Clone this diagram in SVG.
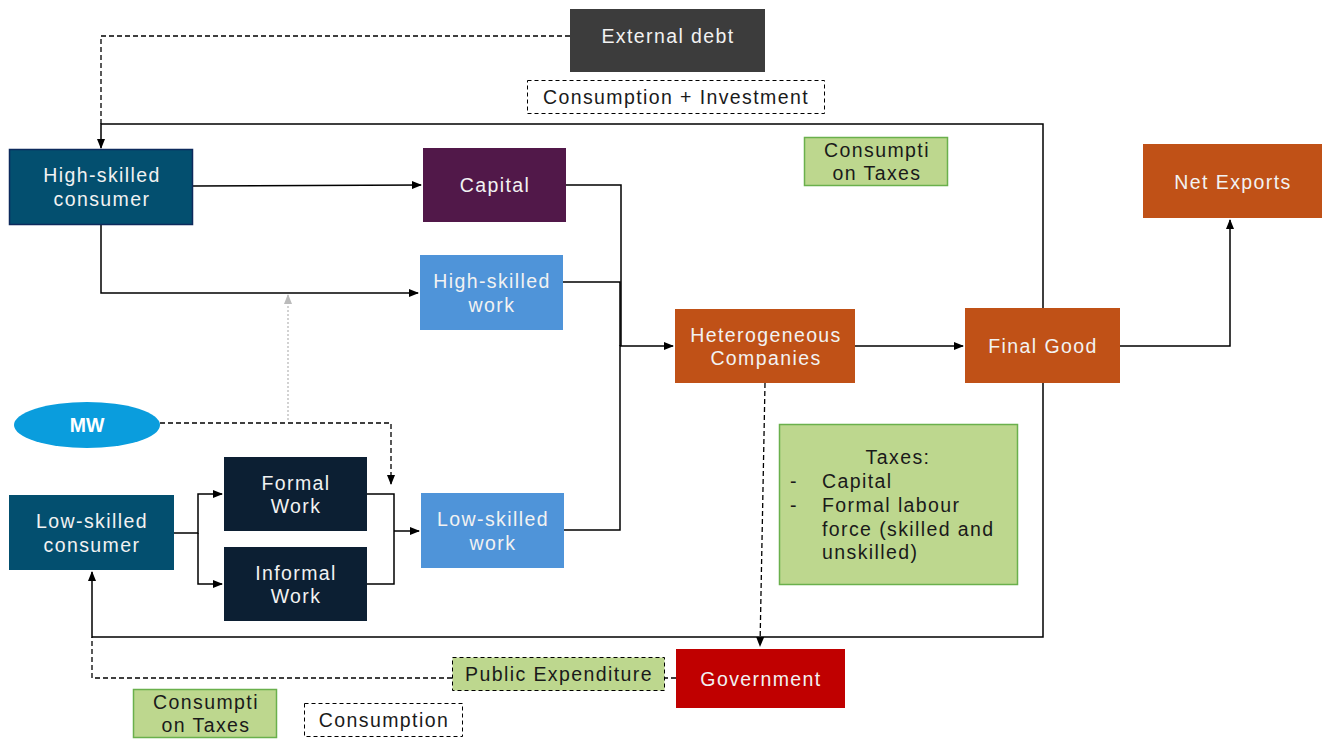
<svg xmlns="http://www.w3.org/2000/svg" width="1323" height="740" viewBox="0 0 1323 740">
<defs>
<marker id="ah" markerWidth="10" markerHeight="8" refX="9" refY="4" orient="auto" markerUnits="userSpaceOnUse"><path d="M0,0 L10,4 L0,8 z" fill="#000"/></marker>
<marker id="ahg" markerWidth="10" markerHeight="8" refX="9" refY="4" orient="auto" markerUnits="userSpaceOnUse"><path d="M0,0 L10,4 L0,8 z" fill="#bbb"/></marker>
<style>
text{font-family:"Liberation Sans",Arial,sans-serif;font-size:19.5px;letter-spacing:1.4px;text-anchor:middle}
.w{fill:#f2f2f2}
.d{fill:#1a1a1a}
.c{fill:none;stroke:#000;stroke-width:1.5}
.dash{fill:none;stroke:#000;stroke-width:1.3;stroke-dasharray:5,3}
.green{fill:#bdd78e;stroke:#6ab04c;stroke-width:1.5}
.lbl{fill:#fff;stroke:#000;stroke-width:1;stroke-dasharray:4,3}
</style>
</defs>
<rect width="1323" height="740" fill="#fff"/>

<g id="connectors">
<path class="c" d="M1043,308 V124 H101 V148" marker-end="url(#ah)"/>
<path class="c" d="M1043,383 V637 H92 V572" marker-end="url(#ah)"/>
<path class="dash" d="M570,36 H101 V124"/>
<path class="c" d="M193,186 L421,185" marker-end="url(#ah)"/>
<path class="c" d="M101,225 V293 H418" marker-end="url(#ah)"/>
<path d="M288,420 V295" fill="none" stroke="#bbb" stroke-width="1.3" stroke-dasharray="2,2" marker-end="url(#ahg)"/>
<path class="dash" d="M160,423 H391 V484" marker-end="url(#ah)"/>
<path class="c" d="M174,533 H198 V494 H222" marker-end="url(#ah)"/>
<path class="c" d="M198,533 V584 H222" marker-end="url(#ah)"/>
<path class="c" d="M367,494 H394 V584 H367"/>
<path class="c" d="M394,531 H419" marker-end="url(#ah)"/>
<path class="c" d="M566,185 H621 V346"/>
<path class="c" d="M563,282 H620 V346"/>
<path class="c" d="M564,530 H620 V346 H673" marker-end="url(#ah)"/>
<path class="c" d="M855,346 H963" marker-end="url(#ah)"/>
<path class="c" d="M1120,346 H1230 V220" marker-end="url(#ah)"/>
<path class="dash" d="M765,383 L760,646" marker-end="url(#ah)"/>
<path class="dash" d="M676,678 H92 V637"/>
</g>

<g id="external-debt"><rect x="570" y="9" width="195" height="63" fill="#3c3c3c"/><text class="w" x="668" y="43">External debt</text></g>
<g id="label-consumption-investment"><rect class="lbl" x="527.5" y="80.5" width="297" height="33"/><text class="d" x="676" y="104">Consumption + Investment</text></g>

<g id="hs-consumer"><rect x="9.5" y="149.5" width="183" height="75" fill="#034f6f" stroke="#0d2a5c" stroke-width="1.5"/><text class="w" x="102" y="182">High-skilled</text><text class="w" x="102" y="206">consumer</text></g>
<g id="capital"><rect x="423" y="148" width="143" height="74" fill="#511849"/><text class="w" x="495" y="192">Capital</text></g>
<g id="hs-work"><rect x="420" y="255" width="143" height="75" fill="#4f94d9"/><text class="w" x="492" y="288">High-skilled</text><text class="w" x="492" y="312">work</text></g>

<g id="mw"><ellipse cx="87" cy="425" rx="73" ry="23" fill="#0a9ddd"/><text x="87" y="432" style="fill:#fff;font-weight:bold;letter-spacing:0">MW</text></g>

<g id="ls-consumer"><rect x="9" y="495" width="165" height="75" fill="#034f6f"/><text class="w" x="92" y="528">Low-skilled</text><text class="w" x="92" y="552">consumer</text></g>
<g id="formal-work"><rect x="224" y="457" width="143" height="74" fill="#0c1f33"/><text class="w" x="296" y="490">Formal</text><text class="w" x="296" y="513">Work</text></g>
<g id="informal-work"><rect x="224" y="547" width="143" height="74" fill="#0c1f33"/><text class="w" x="296" y="580">Informal</text><text class="w" x="296" y="603">Work</text></g>
<g id="ls-work"><rect x="421" y="493" width="143" height="75" fill="#4f94d9"/><text class="w" x="493" y="526">Low-skilled</text><text class="w" x="493" y="550">work</text></g>

<g id="companies"><rect x="675" y="309" width="180" height="74" fill="#c05117"/><text class="w" x="766" y="342">Heterogeneous</text><text class="w" x="766" y="365">Companies</text></g>
<g id="final-good"><rect x="965" y="308" width="155" height="75" fill="#c05117"/><text class="w" x="1043" y="353">Final Good</text></g>
<g id="net-exports"><rect x="1143" y="144" width="179" height="74" fill="#c05117"/><text class="w" x="1233" y="189">Net Exports</text></g>

<g id="consumption-taxes-top"><rect class="green" x="804.5" y="137.5" width="143" height="48"/><text class="d" x="877" y="157">Consumpti</text><text class="d" x="877" y="180">on Taxes</text></g>

<g id="taxes"><rect class="green" x="779.5" y="424.5" width="238" height="160"/>
<text class="d" x="898" y="464">Taxes:</text>
<text class="d" x="794" y="488">-</text><text class="d" x="822" y="488" style="text-anchor:start">Capital</text>
<text class="d" x="794" y="512">-</text><text class="d" x="822" y="512" style="text-anchor:start">Formal labour</text>
<text class="d" x="822" y="536" style="text-anchor:start">force (skilled and</text>
<text class="d" x="822" y="559" style="text-anchor:start">unskilled)</text>
</g>

<g id="government"><rect x="676" y="649" width="169" height="59" fill="#c00000"/><text class="w" x="761" y="686">Government</text></g>
<g id="public-expenditure"><rect x="452.5" y="657.5" width="212" height="33" fill="#bdd78e" stroke="#000" stroke-width="1" stroke-dasharray="4,3"/><text class="d" x="559" y="681">Public Expenditure</text></g>
<g id="consumption-taxes-bottom"><rect class="green" x="133.5" y="689.5" width="143" height="48"/><text class="d" x="206" y="709">Consumpti</text><text class="d" x="206" y="732">on Taxes</text></g>
<g id="label-consumption"><rect class="lbl" x="304.5" y="703.5" width="158" height="33"/><text class="d" x="384" y="727">Consumption</text></g>
</svg>
